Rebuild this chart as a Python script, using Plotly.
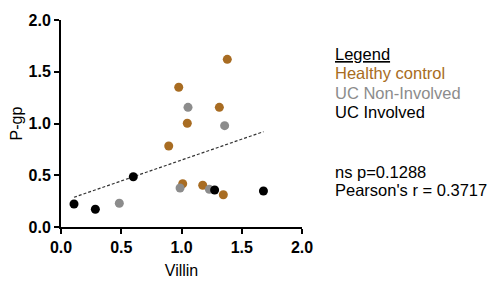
import plotly.graph_objects as go

# Data
healthy_x = [1.38, 0.977, 1.314, 1.048, 0.894, 1.01, 1.176, 1.347]
healthy_y = [1.62, 1.35, 1.156, 1.002, 0.783, 0.418, 0.403, 0.312]

noninv_x = [0.484, 1.054, 1.358, 0.988, 1.231]
noninv_y = [0.229, 1.156, 0.979, 0.377, 0.364]

inv_x = [0.108, 0.285, 0.60, 1.275, 1.68]
inv_y = [0.222, 0.171, 0.486, 0.357, 0.348]

trend_x = [0.108, 1.68]
trend_y = [0.287, 0.921]

tick_vals = [0.0, 0.5, 1.0, 1.5, 2.0]
tick_text = ["0.0", "0.5", "1.0", "1.5", "2.0"]

BROWN = "#A86C22"
GRAY = "#8C8C8C"
BLACK = "#000000"

fig = go.Figure()
fig.add_trace(go.Scatter(x=trend_x, y=trend_y, mode="lines",
                         line=dict(color="#333333", width=1.2, dash="3px,2px"),
                         showlegend=False, hoverinfo="skip"))
fig.add_trace(go.Scatter(x=healthy_x, y=healthy_y, mode="markers",
                         marker=dict(color=BROWN, size=9), name="Healthy control"))
fig.add_trace(go.Scatter(x=noninv_x, y=noninv_y, mode="markers",
                         marker=dict(color=GRAY, size=9), name="UC Non-Involved"))
fig.add_trace(go.Scatter(x=inv_x, y=inv_y, mode="markers",
                         marker=dict(color=BLACK, size=9), name="UC Involved"))

axis_common = dict(
    range=[0, 2], tickvals=tick_vals, ticktext=tick_text,
    showline=True, linecolor="black", linewidth=2,
    ticks="outside", ticklen=5, tickwidth=2, tickcolor="black",
    showgrid=False, zeroline=False, automargin=False,
    tickfont=dict(family="Arial", size=16, color="black", weight="bold"),
)

fig.update_layout(
    template="none",
    width=498, height=288,
    margin=dict(l=53, r=204, t=12, b=69, autoexpand=False),
    paper_bgcolor="white", plot_bgcolor="white",
    showlegend=False,
    font=dict(family="Arial", color="black"),
    xaxis=dict(**axis_common, title=dict(text="Villin", font=dict(size=16), standoff=10)),
    yaxis=dict(**axis_common, title=dict(text="P-gp", font=dict(size=16), standoff=6)),
)

labels = [("<u>Legend</u>", BLACK, 0.836), ("Healthy control", BROWN, 0.744),
          ("UC Non-Involved", GRAY, 0.647), ("UC Involved", BLACK, 0.556),
          ("ns p=0.1288", BLACK, 0.266), ("Pearson's r = 0.3717", BLACK, 0.179)]
for txt, col, yy in labels:
    fig.add_annotation(text=txt, xref="paper", yref="paper", x=1.129, y=yy,
                       xanchor="left", yanchor="middle", showarrow=False,
                       font=dict(family="Arial", size=16.5, color=col))

fig.write_html("out.html")
